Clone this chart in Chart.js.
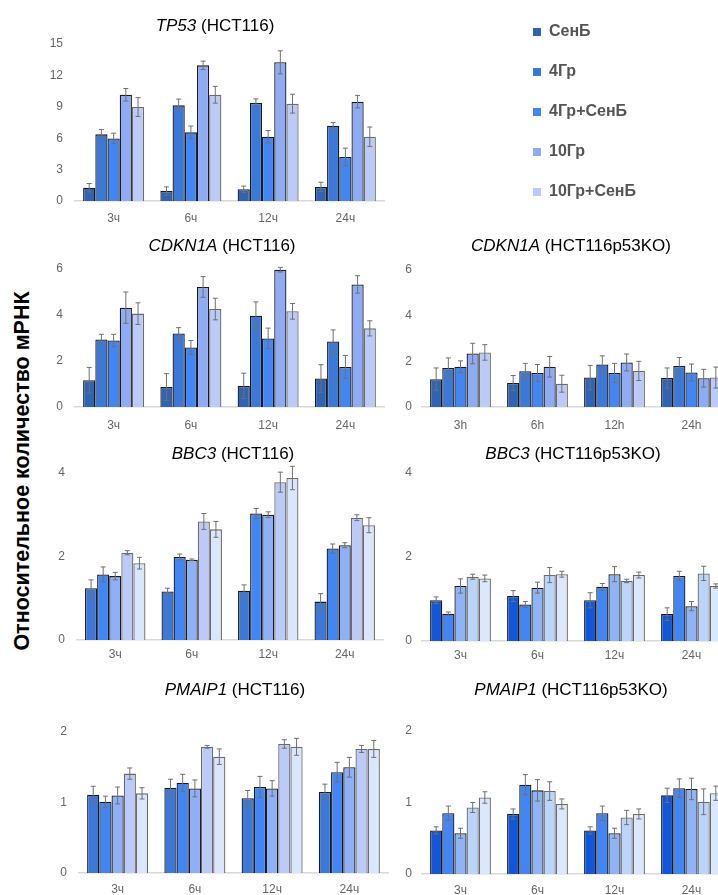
<!DOCTYPE html>
<html>
<head>
<meta charset="utf-8">
<script src="https://cdn.jsdelivr.net/npm/chart.js@4.4.0/dist/chart.umd.min.js"></script>
<style>
body { margin: 0; width: 718px; height: 895px; overflow: hidden; background: #fff; position: relative; font-family: 'Liberation Sans', Arial, sans-serif; }
canvas { position: absolute; }
#ytitle { position: absolute; left: 22px; top: 471px; transform: translate(-50%, -50%) rotate(-90deg); white-space: nowrap; font-weight: bold; font-size: 21.5px; color: #000; }
</style>
</head>
<body>
<div id="ytitle">Относительное количество мРНК</div>
<script>
var times = ['3ч', '6ч', '12ч', '24ч'];
var timesH = ['3h', '6h', '12h', '24h'];
var groups = ['СенБ', '4Гр', '4Гр+СенБ', '10Гр', '10Гр+СенБ'];

// one row per group, one value per time point
var tp53 = [[1.27, 0.95, 1.12, 1.34], [6.37, 9.14, 9.36, 7.2], [5.98, 6.56, 6.14, 4.2], [10.15, 12.96, 13.25, 9.49], [8.98, 10.15, 9.3, 6.14]];
var tp53Err = [[0.4, 0.4, 0.3, 0.45], [0.45, 0.6, 0.4, 0.3], [0.5, 0.6, 0.6, 0.85], [0.6, 0.4, 1.1, 0.6], [0.9, 0.8, 0.9, 0.93]];

var cdkn = [[1.16, 0.87, 0.92, 1.24], [2.94, 3.2, 3.97, 2.85], [2.89, 2.59, 2.98, 1.74], [4.32, 5.22, 5.97, 5.33], [4.06, 4.26, 4.16, 3.42]];
var cdknErr = [[0.56, 0.58, 0.55, 0.6], [0.22, 0.25, 0.6, 0.5], [0.27, 0.3, 0.45, 0.5], [0.68, 0.45, 0.1, 0.38], [0.47, 0.47, 0.34, 0.33]];

var cdknKO = [[1.22, 1.05, 1.29, 1.27], [1.71, 1.57, 1.86, 1.8], [1.76, 1.49, 1.49, 1.51], [2.34, 1.76, 1.95, 1.26], [2.39, 1.02, 1.58, 1.29]];
var cdknKOErr = [[0.49, 0.33, 0.53, 0.44], [0.44, 0.34, 0.38, 0.37], [0.26, 0.37, 0.42, 0.37], [0.45, 0.45, 0.37, 0.39], [0.34, 0.37, 0.42, 0.46]];

var bbc3 = [[1.24, 1.16, 1.18, 0.92], [1.57, 1.99, 3.03, 2.19], [1.53, 1.92, 3.0, 2.27], [2.09, 2.84, 3.78, 2.93], [1.84, 2.65, 3.88, 2.75]];
var bbc3Err = [[0.2, 0.08, 0.14, 0.19], [0.18, 0.07, 0.12, 0.11], [0.09, 0.02, 0.07, 0.06], [0.05, 0.19, 0.24, 0.07], [0.14, 0.19, 0.28, 0.18]];

var bbc3KO = [[0.97, 1.07, 0.97, 0.64], [0.65, 0.87, 1.29, 1.55], [1.31, 1.27, 1.59, 0.83], [1.53, 1.57, 1.43, 1.61], [1.49, 1.59, 1.57, 1.31]];
var bbc3KOErr = [[0.08, 0.13, 0.18, 0.15], [0.04, 0.07, 0.08, 0.11], [0.17, 0.13, 0.18, 0.11], [0.06, 0.18, 0.04, 0.17], [0.08, 0.07, 0.07, 0.05]];

var pmaip = [[1.11, 1.21, 1.06, 1.15], [1.01, 1.28, 1.22, 1.43], [1.1, 1.2, 1.2, 1.5], [1.41, 1.79, 1.83, 1.76], [1.13, 1.65, 1.79, 1.76]];
var pmaipErr = [[0.12, 0.12, 0.11, 0.11], [0.08, 0.12, 0.15, 0.14], [0.12, 0.12, 0.11, 0.14], [0.08, 0.02, 0.06, 0.05], [0.08, 0.11, 0.12, 0.12]];

var pmaipKO = [[0.61, 0.84, 0.61, 1.1], [0.85, 1.25, 0.85, 1.2], [0.57, 1.17, 0.57, 1.19], [0.93, 1.16, 0.79, 1.01], [1.07, 0.98, 0.84, 1.13]];
var pmaipKOErr = [[0.05, 0.07, 0.05, 0.1], [0.1, 0.14, 0.1, 0.13], [0.07, 0.15, 0.07, 0.15], [0.07, 0.13, 0.1, 0.18], [0.08, 0.07, 0.07, 0.1]];

// colours
var palA = ['#3163b5', '#3c78d8', '#4285f4', '#8fabf3', '#bccaf8'];
var palB = ['#3c78d8', '#4285f4', '#8fb0f6', '#bccaf8', '#dae6fc'];
var palC = ['#1257d9', '#4285f4', '#8fb4f6', '#bcd4f9', '#dbe7fc'];
var edgeA = ['#1a1a1a', '#1a1a1a', '#1a1a1a', '#1a1a1a', '#6b6b6b'];
var edgeB = ['#1a1a1a', '#1a1a1a', '#1a1a1a', '#6b6b6b', '#6b6b6b'];

Chart.defaults.font.family = "'Liberation Sans', Arial, sans-serif";

// title with italic gene name
var titlePlugin = {
    id: 'geneTitle',
    afterDraw: function(chart, args, o) {
        var ctx = chart.ctx;
        var rest = ' (' + o.cell + ')';
        ctx.save();
        ctx.font = 'italic 17px "Liberation Sans", Arial';
        var w1 = ctx.measureText(o.gene).width;
        ctx.font = '17px "Liberation Sans", Arial';
        var w2 = ctx.measureText(rest).width;
        var x0 = o.x - (w1 + w2) / 2;
        ctx.fillStyle = '#000';
        ctx.textBaseline = 'middle';
        ctx.fillText(rest, x0 + w1, o.y);
        ctx.font = 'italic 17px "Liberation Sans", Arial';
        ctx.fillText(o.gene, x0, o.y);
        ctx.restore();
    }
};

// error bars from dataset.errors
var errPlugin = {
    id: 'errBars',
    afterDatasetsDraw: function(chart) {
        var ctx = chart.ctx;
        var y = chart.scales.y;
        ctx.save();
        ctx.strokeStyle = '#707070';
        ctx.lineWidth = 1;
        chart.data.datasets.forEach(function(ds, i) {
            chart.getDatasetMeta(i).data.forEach(function(bar, j) {
                var v = ds.data[j], e = ds.errors[j];
                var y1 = y.getPixelForValue(v + e), y2 = y.getPixelForValue(v - e);
                ctx.beginPath();
                ctx.moveTo(bar.x, y1); ctx.lineTo(bar.x, y2);
                ctx.moveTo(bar.x - 2.5, y1); ctx.lineTo(bar.x + 2.5, y1);
                ctx.moveTo(bar.x - 2.5, y2); ctx.lineTo(bar.x + 2.5, y2);
                ctx.stroke();
            });
        });
        ctx.restore();
    }
};

var panels = [
    {gene: 'TP53', cell: 'HCT116', labels: times, vals: tp53, errs: tp53Err, max: 15, step: 3, pal: palA, edge: edgeA,
        box: [0, 0, 420, 240], plot: [75, 384, 44, 201], title: [215, 26], xpad: 10, ypad: 12},
    {gene: 'CDKN1A', cell: 'HCT116', labels: times, vals: cdkn, errs: cdknErr, max: 6, step: 2, pal: palA, edge: edgeA,
        box: [0, 230, 420, 215], plot: [75, 384, 269, 407], title: [222, 246], xpad: 11, ypad: 12},
    {gene: 'CDKN1A', cell: 'HCT116p53KO', labels: timesH, vals: cdknKO, errs: cdknKOErr, max: 6, step: 2, pal: palA, edge: edgeA,
        box: [360, 230, 400, 215], plot: [422, 730, 270, 407], title: [571, 246], xpad: 11, ypad: 10},
    {gene: 'BBC3', cell: 'HCT116', labels: times, vals: bbc3, errs: bbc3Err, max: 4, step: 2, pal: palB, edge: edgeB,
        box: [0, 430, 420, 245], plot: [77, 383, 473, 640], title: [233, 454], xpad: 7, ypad: 12},
    {gene: 'BBC3', cell: 'HCT116p53KO', labels: times, vals: bbc3KO, errs: bbc3KOErr, max: 4, step: 2, pal: palC, edge: edgeB,
        box: [360, 430, 400, 245], plot: [422, 730, 473, 641], title: [573, 454], xpad: 7, ypad: 10},
    {gene: 'PMAIP1', cell: 'HCT116', labels: times, vals: pmaip, errs: pmaipErr, max: 2, step: 1, pal: palB, edge: edgeB,
        box: [0, 660, 420, 250], plot: [79, 388, 732, 873], title: [235, 690], xpad: 9, ypad: 12},
    {gene: 'PMAIP1', cell: 'HCT116p53KO', labels: times, vals: pmaipKO, errs: pmaipKOErr, max: 2, step: 1, pal: palC, edge: edgeB,
        box: [360, 660, 400, 250], plot: [422, 730, 731, 874], title: [571, 690], xpad: 9, ypad: 10}
];

function addCanvas(box) {
    var cv = document.createElement('canvas');
    cv.width = box[2];
    cv.height = box[3];
    cv.style.left = box[0] + 'px';
    cv.style.top = box[1] + 'px';
    document.body.appendChild(cv);
    return cv;
}

panels.forEach(function(p) {
    var L = p.box[0], T = p.box[1];
    var xh = 32;
    new Chart(addCanvas(p.box), {
        type: 'bar',
        data: {
            labels: p.labels,
            datasets: groups.map(function(g, i) {
                return {
                    label: g,
                    data: p.vals[i],
                    errors: p.errs[i],
                    backgroundColor: p.pal[i],
                    borderColor: p.edge[i],
                    borderWidth: 1.3,
                    categoryPercentage: 0.79,
                    barPercentage: 1
                };
            })
        },
        options: {
            responsive: false,
            animation: false,
            layout: {padding: {left: 0, top: p.plot[2] - T, right: L + p.box[2] - p.plot[1], bottom: T + p.box[3] - p.plot[3] - xh}},
            plugins: {
                legend: {display: false},
                tooltip: {enabled: false},
                geneTitle: {gene: p.gene, cell: p.cell, x: p.title[0] - L, y: p.title[1] - T}
            },
            scales: {
                x: {
                    grid: {display: false, drawTicks: false},
                    border: {display: true, color: '#d9d9d9', width: 1.5},
                    ticks: {padding: p.xpad, color: '#666', font: {size: 12}},
                    afterFit: function(s) { s.height = xh; }
                },
                y: {
                    min: 0, max: p.max,
                    grid: {display: false, drawTicks: false},
                    border: {display: false},
                    ticks: {stepSize: p.step, padding: p.ypad, color: '#666', font: {size: 12}},
                    afterFit: function(s) { s.width = p.plot[0] - L; }
                }
            }
        },
        plugins: [titlePlugin, errPlugin]
    });
});

// legend
new Chart(addCanvas([509, 0, 400, 300]), {
    type: 'bar',
    data: {
        labels: [],
        datasets: groups.map(function(g, i) {
            return {label: g, data: [], backgroundColor: palA[i], borderWidth: 0};
        })
    },
    options: {
        responsive: false,
        animation: false,
        plugins: {
            tooltip: {enabled: false},
            legend: {
                position: 'left',
                align: 'start',
                labels: {boxWidth: 8, boxHeight: 8, padding: 24, color: '#555', font: {size: 16, weight: 'bold'}}
            }
        },
        scales: {x: {display: false}, y: {display: false}}
    }
});
</script>
</body>
</html>
